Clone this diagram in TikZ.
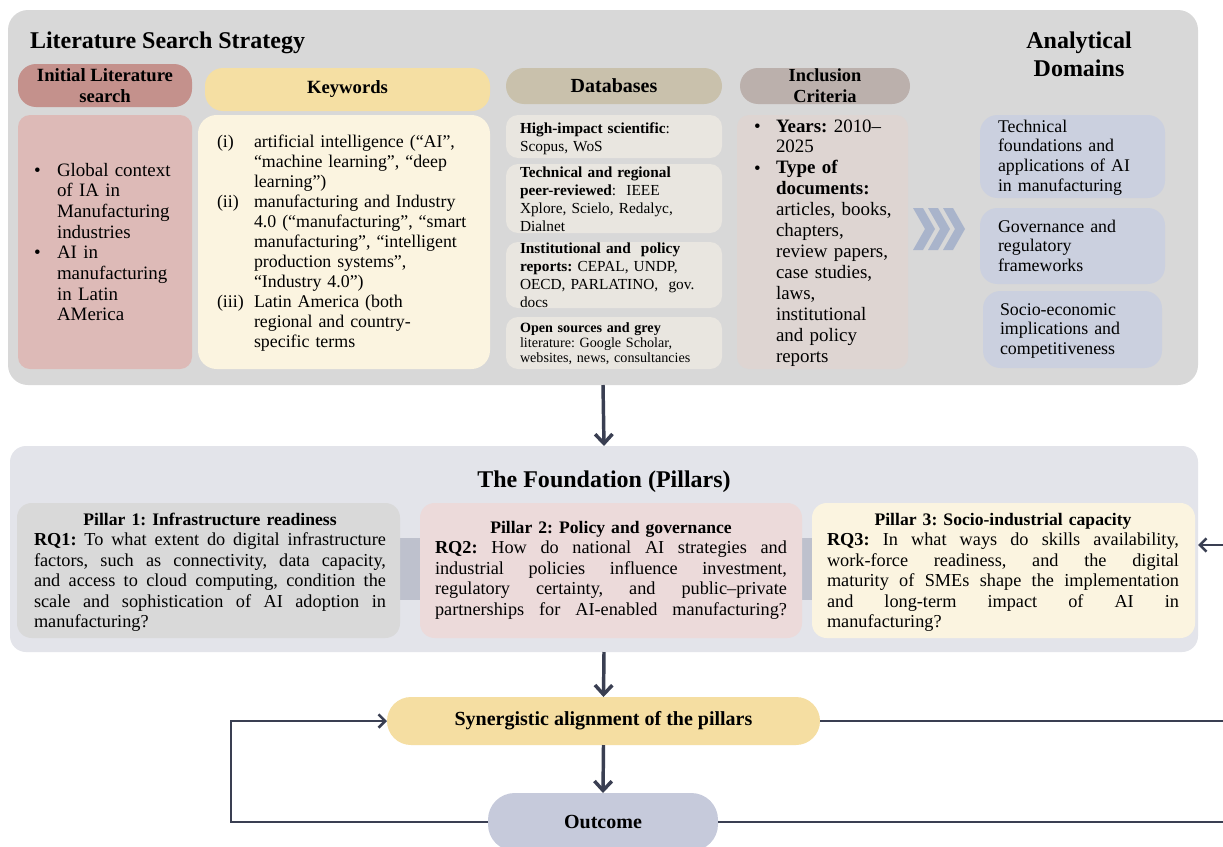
\documentclass[tikz,border=0pt]{standalone}
\usepackage{fontspec}
\setmainfont{Liberation Serif}
\usetikzlibrary{arrows.meta}

\definecolor{linec}{HTML}{3A3F52}
\definecolor{outerbg}{HTML}{D8D8D8}
\definecolor{inithead}{HTML}{C4918C}
\definecolor{initbody}{HTML}{DDBAB7}
\definecolor{keyhead}{HTML}{F5DFA3}
\definecolor{keybody}{HTML}{FBF4E0}
\definecolor{dbhead}{HTML}{C9C1AC}
\definecolor{dbbody}{HTML}{E9E6E0}
\definecolor{inchead}{HTML}{BBB0AC}
\definecolor{incbody}{HTML}{DED5D2}
\definecolor{chev}{HTML}{A9B4CB}
\definecolor{dombody}{HTML}{CBD0DF}
\definecolor{foundbg}{HTML}{E3E4EA}
\definecolor{pillA}{HTML}{D9D9D9}
\definecolor{pillB}{HTML}{ECDADA}
\definecolor{pillC}{HTML}{FBF4E0}
\definecolor{bridge}{HTML}{BEC1CD}
\definecolor{synfill}{HTML}{F5DEA2}
\definecolor{outfill}{HTML}{C6CADB}

% rectangle node spanning (x1,y1)--(x2,y2) in picture units
\newcommand\panelnode[7][]{%
  \node[panel,#7,minimum width={(#4-#2)*0.75pt},minimum height={(#5-#3)*0.75pt},#1]
    (#6) at (#2,#3) {};}
\newcommand\headnode[7]{%
  \node[panel,pill,#7,minimum width={(#4-#2)*0.75pt},minimum height={(#5-#3)*0.75pt}]
    (#6) at (#2,#3) {#1};}
% pillar questions: a centred bold heading and fully justified lines
\newlength\pillw
\setlength\pillw{264pt}
\newcommand\jl[1]{\leavevmode{\spaceskip=0.25em plus 1fil minus 0.08em\relax\hbox to \pillw{#1}}}
\newcommand\pillhead[1]{\makebox[\pillw][c]{\fontsize{13.2}{15.4}\selectfont\bfseries #1}}

\begin{document}
\frenchspacing
\begin{tikzpicture}[x=0.75pt,y=-0.75pt,
  panel/.style={draw=none,inner sep=0pt,outer sep=0pt,anchor=north west,rounded corners=9pt},
  pill/.style={rounded corners=13.5pt,align=center,font=\fontsize{14}{16}\selectfont\bfseries},
  txt/.style={inner sep=0pt,outer sep=0pt,anchor=base west,align=left},
  bodyA/.style={font=\fontsize{14.2}{15.5}\selectfont},
  bodyK/.style={font=\fontsize{13.4}{15}\selectfont},
  bodyD/.style={font=\fontsize{11.5}{13.5}\selectfont},
  bodyS/.style={font=\fontsize{10.6}{11.6}\selectfont},
  bodyI/.style={font=\fontsize{14.2}{15.7}\selectfont},
  bodyM/.style={font=\fontsize{13.4}{14.9}\selectfont},
  bodyP/.style={font=\fontsize{13.7}{15.4}\selectfont},
  title/.style={inner sep=0pt,outer sep=0pt,font=\fontsize{18}{21}\selectfont\bfseries},
  flow/.style={draw=linec,line width=2.6pt,-{Straight Barb[length=7pt,width=13pt]}},
  loop/.style={draw=linec,line width=1.9pt},
  looparrow/.style={loop,-{Straight Barb[length=5pt,width=10pt]}}
]
\clip (0,0) rectangle (1223,846);
\fill[white] (0,0) rectangle (1223,846);

% ---------- literature search strategy ----------
\panelnode[rounded corners=15pt]{8}{10}{1198}{385}{strategy}{fill=outerbg}
\node[title,anchor=base west] (stitle) at (30,48) {Literature Search Strategy};
\node[title,anchor=base,align=center,text width=150pt] (dtitle) at (1079,48) {Analytical\\Domains};

% initial literature search
\headnode{Initial Literature\\search}{18}{64}{192}{107}{inithd}{fill=inithead,font=\fontsize{14}{16}\selectfont\bfseries}
\panelnode{18}{115}{192}{369}{initbd}{fill=initbody}
\node[txt,bodyA] (ib1) at (34,176) {\textbullet};
\node[txt,bodyA] (ib2) at (34,258) {\textbullet};
\node[txt,bodyA,text width=100pt] (inittx) at (57,176)
  {Global context\\of IA in\\Manufacturing\\industries\\AI in\\manufacturing\\in Latin\\AMerica};

% keywords
\headnode{Keywords}{205}{68}{490}{111}{keyhd}{fill=keyhead}
\panelnode[rounded corners=14pt]{198}{115}{490}{369}{keybd}{fill=keybody}
\node[txt,bodyK,text width=30pt] (keylab) at (217,147)
  {(i)\\\mbox{}\\\mbox{}\\(ii)\\\mbox{}\\\mbox{}\\\mbox{}\\\mbox{}\\(iii)\\\mbox{}\\\mbox{}};
\node[txt,bodyK,text width=175pt] (keytx) at (254,147)
  {artificial intelligence (“AI”,\\“machine learning”, “deep\\learning”)\\
   manufacturing and Industry\\4.0 (“manufacturing”, “smart\\manufacturing”, “intelligent\\production systems”,\\“Industry 4.0”)\\
   Latin America (both\\regional and country-\\specific terms};

% databases
\headnode{Databases}{506}{68}{722}{104}{dbhd}{fill=dbhead,font=\fontsize{15}{17}\selectfont\bfseries}
\panelnode{506}{115}{722}{158}{dbA}{fill=dbbody}
\panelnode{506}{164}{722}{233}{dbB}{fill=dbbody}
\panelnode{506}{242}{722}{308}{dbC}{fill=dbbody}
\panelnode{506}{317}{722}{369}{dbD}{fill=dbbody}
\node[txt,bodyD,text width=150pt] (dbAt) at (520,133)
  {\textbf{High-impact scientific}:\\Scopus, WoS};
\node[txt,bodyD,text width=150pt] (dbBt) at (520,177)
  {\textbf{Technical and regional}\\\textbf{peer-reviewed}:\ \ IEEE\\Xplore, Scielo, Redalyc,\\Dialnet};
\node[txt,bodyD,text width=150pt] (dbCt) at (520,253)
  {\textbf{Institutional and\ \ policy}\\\textbf{reports:} CEPAL, UNDP,\\OECD, PARLATINO,\ \ gov.\\docs};
\node[txt,bodyS,text width=150pt] (dbDt) at (520,332)
  {\textbf{Open sources and grey}\\literature: Google Scholar,\\websites, news, consultancies};

% inclusion criteria
\headnode{Inclusion\\Criteria}{740}{68}{910}{104}{inchd}{fill=inchead,font=\fontsize{13.8}{15.5}\selectfont\bfseries}
\panelnode{737}{115}{908}{369}{incbd}{fill=incbody}
\node[txt,bodyI] (icb1) at (754,132) {\textbullet};
\node[txt,bodyI] (icb2) at (754,174) {\textbullet};
\node[txt,bodyI,text width=100pt] (inctx) at (776,132)
  {\textbf{Years:} 2010–\\2025\\\textbf{Type of}\\\textbf{documents:}\\articles, books,\\chapters,\\review papers,\\case studies,\\laws,\\institutional\\and policy\\reports};

% chevrons
\foreach \i in {0,1,2}{
  \fill[chev] ({913+15*\i},208) -- ++(10,0) -- ++(12,21) -- ++(-12,21) -- ++(-10,0) -- ++(12,-21) -- cycle;
}

% analytical domains
\panelnode[rounded corners=13pt]{980}{115}{1165}{198}{domA}{fill=dombody}
\panelnode[rounded corners=13pt]{980}{208}{1165}{284}{domB}{fill=dombody}
\panelnode[rounded corners=13pt]{983}{291}{1162}{368}{domC}{fill=dombody}
\node[txt,bodyM,text width=130pt] (domAt) at (998,132)
  {Technical\\foundations and\\applications of AI\\in manufacturing};
\node[txt,bodyM,text width=130pt] (domBt) at (998,232)
  {Governance and\\regulatory\\frameworks};
\node[txt,bodyM,text width=130pt] (domCt) at (1000,315)
  {Socio-economic\\implications and\\competitiveness};

% ---------- the foundation ----------
\panelnode[rounded corners=12pt]{10}{446}{1198}{652}{found}{fill=foundbg}
\node[title,anchor=base] (ftitle) at (604,487) {The Foundation (Pillars)};
\panelnode[rounded corners=0pt]{398}{538}{422}{600}{brA}{fill=bridge}
\panelnode[rounded corners=0pt]{800}{538}{814}{600}{brB}{fill=bridge}
\panelnode[rounded corners=11pt]{17}{503}{400}{638}{pA}{fill=pillA}
\panelnode[rounded corners=11pt]{420}{503}{802}{638}{pB}{fill=pillB}
\panelnode[rounded corners=11pt]{812}{503}{1195}{638}{pC}{fill=pillC}

\node[txt,bodyP,text width=\pillw] (pAt) at (34,525)
  {\pillhead{Pillar 1: Infrastructure readiness}\\
   \jl{\textbf{RQ1:} To what extent do digital infrastructure}\\
   \jl{factors, such as connectivity, data capacity,}\\
   \jl{and access to cloud computing, condition the}\\
   \jl{scale and sophistication of AI adoption in}\\
   manufacturing?};
\node[txt,bodyP,text width=\pillw] (pBt) at (435,533)
  {\pillhead{Pillar 2: Policy and governance}\\
   \jl{\textbf{RQ2:} How do national AI strategies and}\\
   \jl{industrial policies influence investment,}\\
   \jl{regulatory certainty, and public–private}\\
   \jl{partnerships for AI-enabled manufacturing?}};
\node[txt,bodyP,text width=\pillw] (pCt) at (827,525)
  {\pillhead{Pillar 3: Socio-industrial capacity}\\
   \jl{\textbf{RQ3:} In what ways do skills availability,}\\
   \jl{work-force readiness, and the digital}\\
   \jl{maturity of SMEs shape the implementation}\\
   \jl{and long-term impact of AI in}\\
   manufacturing?};

% ---------- alignment and outcome ----------
\node[panel,anchor=center,minimum width={433*0.75pt},minimum height={48*0.75pt},rounded corners=18pt,fill=synfill,font=\fontsize{15}{17}\selectfont\bfseries]
  (syn) at (603.5,721) {Synergistic alignment of the pillars};
\node[panel,anchor=center,minimum width={230*0.75pt},minimum height={58*0.75pt},rounded corners=20pt,fill=outfill,font=\fontsize{15}{17}\selectfont\bfseries]
  (out) at (603,822) {Outcome};

% ---------- connectors ----------
\draw[flow] (strategy.south) -- (found.north);
\draw[flow] (found.south) -- (syn.north);
\draw[flow] (syn.south) -- (out.north);

\coordinate (loopL) at (231,822);
\draw[looparrow] (out.west) -- (loopL) |- (syn.west);

\coordinate (rightA) at (1226,721);
\coordinate (rightB) at (1226,822);
\coordinate (rightC) at (1226,545);
\draw[loop] (syn.east) -- (rightA);
\draw[loop] (out.east) -- (rightB);
\draw[looparrow] (rightC) -- (rightC -| found.east);
\end{tikzpicture}
\end{document}
